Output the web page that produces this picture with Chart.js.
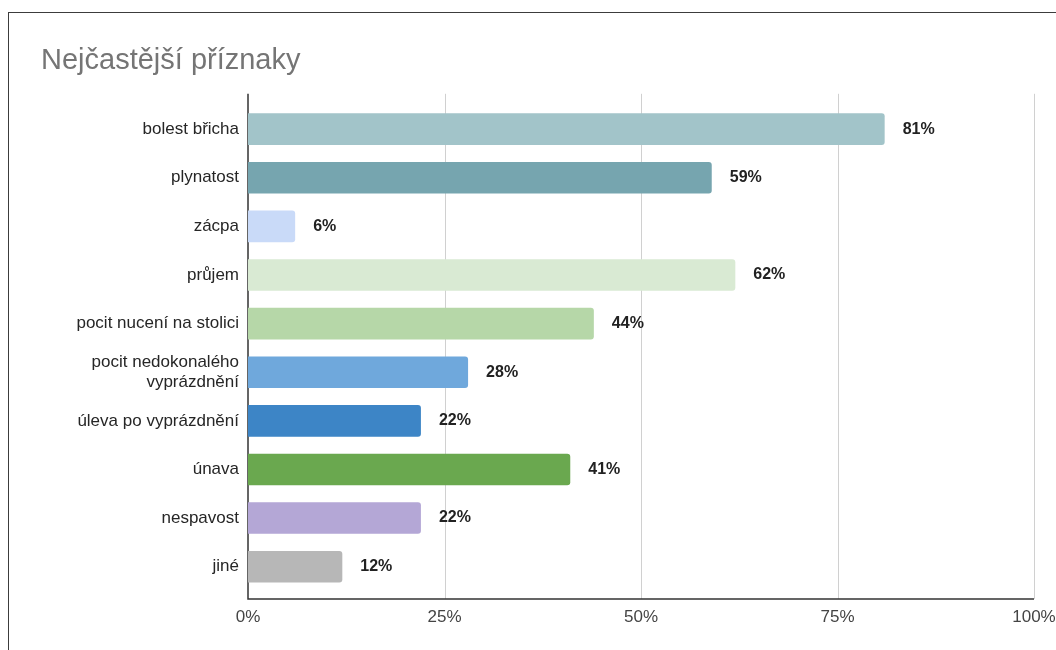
<!DOCTYPE html>
<html lang="cs">
<head>
<meta charset="utf-8">
<title>Nejčastější příznaky</title>
<script src="https://cdn.jsdelivr.net/npm/chart.js@4/dist/chart.umd.min.js"></script>
<style>
  html, body { margin: 0; padding: 0; background: #fff; overflow: hidden; width: 1056px; height: 650px; }
  #frame {
    position: absolute; left: 8px; top: 12px;
    width: 1100px; height: 700px;
    border-left: 1px solid #3c3c3c; border-top: 1px solid #3c3c3c;
    background: #fff;
  }
</style>
</head>
<body>
<div id="frame"><canvas id="chart"></canvas></div>
<script>
// Symptom categories and the share of respondents reporting each (in %)
const categories = [
  'bolest břicha',
  'plynatost',
  'zácpa',
  'průjem',
  'pocit nucení na stolici',
  ['pocit nedokonalého', 'vyprázdnění'],
  'úleva po vyprázdnění',
  'únava',
  'nespavost',
  'jiné'
];
const shares = [81, 59, 6, 62, 44, 28, 22, 41, 22, 12];
const barColors = [
  '#a2c4c9', '#76a5af', '#c9daf8', '#d9ead3', '#b6d7a8',
  '#6fa8dc', '#3d85c6', '#6aa84f', '#b4a7d6', '#b7b7b7'
];
const axisTicks = [0, 25, 50, 75, 100];

const FONT = '"Liberation Sans", Arial, sans-serif';

// Axis frame and vertical gridlines, reaching a little past the bar band
const axisFrame = {
  id: 'axisFrame',
  beforeDatasetsDraw(chart) {
    const { ctx, chartArea } = chart;
    const x = chart.scales.x;
    const top = chartArea.top - 11;
    const bottom = chartArea.bottom + 8;
    ctx.save();
    ctx.lineWidth = 1;
    ctx.strokeStyle = '#d0d0d0';
    axisTicks.forEach(v => {
      if (v === 0) return;
      const px = Math.round(x.getPixelForValue(v)) + 0.5;
      ctx.beginPath();
      ctx.moveTo(px, top);
      ctx.lineTo(px, bottom);
      ctx.stroke();
    });
    ctx.strokeStyle = '#333';
    ctx.lineWidth = 1.5;
    const x0 = x.getPixelForValue(0);
    ctx.beginPath();
    ctx.moveTo(x0, top);
    ctx.lineTo(x0, bottom);
    ctx.lineTo(x.getPixelForValue(100), bottom);
    ctx.stroke();
    ctx.restore();
  }
};

// Writes each bar's percentage just past its end
const valueLabels = {
  id: 'valueLabels',
  afterDatasetsDraw(chart) {
    const ctx = chart.ctx;
    const meta = chart.getDatasetMeta(0);
    ctx.save();
    ctx.font = 'bold 16px ' + FONT;
    ctx.fillStyle = '#222';
    ctx.textAlign = 'left';
    ctx.textBaseline = 'middle';
    meta.data.forEach((bar, i) => {
      ctx.fillText(chart.data.datasets[0].data[i] + '%', bar.x + 18, bar.y);
    });
    ctx.restore();
  }
};

new Chart(document.getElementById('chart'), {
  type: 'bar',
  data: {
    labels: categories,
    datasets: [{
      data: shares,
      backgroundColor: barColors,
      borderWidth: 0,
      borderRadius: 3,
      borderSkipped: 'start',
      categoryPercentage: 1,
      barPercentage: 0.65
    }]
  },
  options: {
    indexAxis: 'y',
    responsive: true,
    maintainAspectRatio: false,
    animation: false,
    layout: { padding: { left: 32, right: 75, top: 10, bottom: 74 } },
    plugins: {
      legend: { display: false },
      tooltip: { enabled: false },
      title: {
        display: true,
        text: 'Nejčastější příznaky',
        align: 'start',
        color: '#757575',
        font: { family: FONT, size: 29, weight: 'normal' },
        padding: { top: 21, bottom: 26 }
      }
    },
    scales: {
      x: {
        min: 0,
        max: 100,
        afterBuildTicks(scale) {
          scale.ticks = axisTicks.map(v => ({ value: v }));
        },
        afterFit(scale) { scale.height = 48; },
        ticks: {
          callback: v => v + '%',
          color: '#444',
          font: { family: FONT, size: 17 },
          padding: 16,
          maxRotation: 0
        },
        grid: { display: false, drawTicks: false },
        border: { display: false }
      },
      y: {
        afterFit(scale) { scale.width = 207; },
        ticks: {
          color: '#262626',
          font: { family: FONT, size: 17 },
          padding: 9,
          autoSkip: false
        },
        grid: { display: false, drawTicks: false },
        border: { display: false }
      }
    }
  },
  plugins: [axisFrame, valueLabels]
});
</script>
</body>
</html>
